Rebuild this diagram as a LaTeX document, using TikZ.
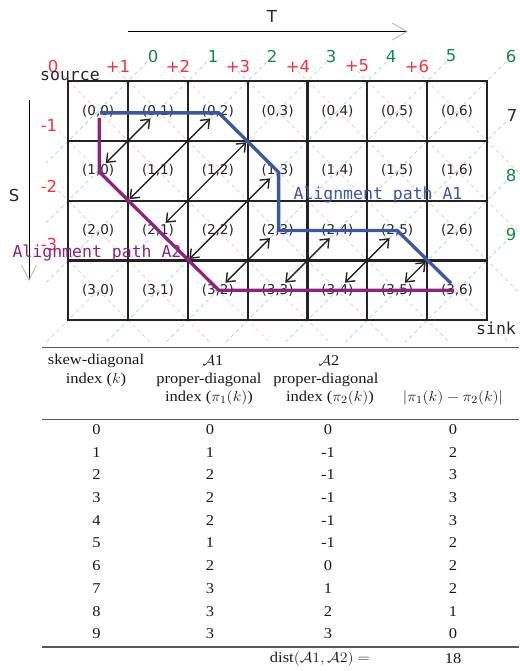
\documentclass[tikz,border=0pt]{standalone}
\usepackage{fontspec}
\setmainfont{Liberation Serif}
\newfontfamily\dvs{DejaVu Sans}
\newfontfamily\dvm{DejaVu Sans Mono}
\usetikzlibrary{arrows.meta,calc}
\definecolor{pathblue}{RGB}{58,86,168}
\definecolor{pathpurple}{RGB}{140,35,130}
\definecolor{dred}{RGB}{250,45,60}
\definecolor{dgreen}{RGB}{15,140,75}
\definecolor{dashred}{RGB}{252,185,192}
\definecolor{dashgreen}{RGB}{165,212,195}
\definecolor{gridc}{RGB}{35,35,35}
\newcommand\tsc[1]{\scalebox{1.1}[1]{#1}}
\newcommand\cA{\ensuremath{\mathcal{A}}}
\begin{document}
\begin{tikzpicture}[x=1pt,y=-1pt,
  cell/.style={font=\dvs\fontsize{13.5}{16}\selectfont, text=black!85, inner sep=0pt},
  dnum/.style={font=\dvs\fontsize{16.5}{19}\selectfont, text=dred, inner sep=0pt},
  knum/.style={font=\dvs\fontsize{16.5}{19}\selectfont, text=dgreen, inner sep=0pt},
  axlab/.style={font=\dvs\fontsize{16.5}{19}\selectfont, text=black!85, inner sep=0pt},
  mono/.style={font=\dvm\fontsize{16.5}{19}\selectfont, inner sep=0pt},
  gridline/.style={draw=gridc, line width=2.2pt, line cap=rect},
  dashr/.style={draw=dashred, line width=0.7pt, dash pattern=on 3.5pt off 3.5pt},
  dashg/.style={draw=dashgreen, line width=0.7pt, dash pattern=on 3.5pt off 3.5pt},
  pathA/.style={line width=3.3pt},
  biarrow/.style={{Straight Barb[length=7.5pt,width=12pt]}-{Straight Barb[length=7.5pt,width=12pt]}, line width=1.4pt, draw=gridc, shorten <=2pt, shorten >=2pt},
  headc/.style={draw=black!30, line width=0.8pt},
  tab/.style={font=\fontsize{15}{18}\selectfont, inner sep=0pt, text=black!90},
  rule/.style={draw=black!65, line width=1.3pt}]
\useasboundingbox (0,0) rectangle (519,671);

% dashed diagonals
\begin{scope}
\clip (46,60) rectangle (519,341);
\foreach \k in {0,...,9}{
  \pgfmathsetmacro\cx{68.3+59.8*min(\k+1,7)}
  \pgfmathsetmacro\cy{81+59.8*max(\k-6,0)}
  \draw[dashg] (\cx+19,\cy-19) -- (\cx-400,\cy+400);
}
\foreach \d in {-3,...,6}{
  \pgfmathsetmacro\cx{68.3+59.8*max(\d,0)}
  \pgfmathsetmacro\cy{81+59.8*max(-\d,0)}
  \draw[dashr] (\cx-10,\cy-10) -- (\cx+400,\cy+400);
}
\end{scope}

% grid
\foreach \j in {0,...,7} \draw[gridline] ({68.3+59.8*\j},81) -- ({68.3+59.8*\j},320.2);
\foreach \i in {0,...,4} \draw[gridline] (68.3,{81+59.8*\i}) -- (486.9,{81+59.8*\i});

% grid corners
\foreach \i in {0,...,4}{\foreach \j in {0,...,7}{
  \coordinate (k\i\j) at ({68.3+59.8*\j},{81+59.8*\i});
}}

% cell labels
\foreach \i in {0,...,3}{\foreach \j in {0,...,6}{
  \node[cell] (c\i\j) at ({68.3+59.8*(\j+0.5)},{81+59.8*(\i+0.5)}) {(\i,\j)};
}}

% axes
\coordinate (tA) at (128,31.5);
\coordinate (tB) at (407,31.5);
\draw[black, line width=0.9pt] (tA) -- (tB);
\draw[headc] ($(tB)+(-15,-8.5)$) -- (tB) -- ($(tB)+(-15,8.5)$);
\node[axlab] (T) at (272,16) {T};
\coordinate (sA) at (29,100);
\coordinate (sB) at (29,280);
\draw[black, line width=0.9pt] (sA) -- (sB);
\draw[headc] ($(sB)+(-7.5,-15)$) -- (sB) -- ($(sB)+(7.5,-15)$);
\node[axlab] (S) at (14,195) {S};

% proper-diagonal indices (red)
\node[dnum] (d0) at (53,66) {0};
\node[dnum] (d1) at (118,66) {+1};
\node[dnum] (d2) at (178,66) {+2};
\node[dnum] (d3) at (238,66) {+3};
\node[dnum] (d4) at (298,66) {+4};
\node[dnum] (d5) at (357,66) {+5};
\node[dnum] (d6) at (417,66) {+6};
\node[dnum] (dm1) at (49,125) {-1};
\node[dnum] (dm2) at (49,186) {-2};
\node[dnum] (dm3) at (49,244) {-3};

% skew-diagonal indices (green)
\node[knum] (s0) at (153,56) {0};
\node[knum] (s1) at (213,56) {1};
\node[knum] (s2) at (272,56) {2};
\node[knum] (s3) at (331,56) {3};
\node[knum] (s4) at (391,56) {4};
\node[knum] (s5) at (451,56) {5};
\node[knum] (s6) at (511,56) {6};
\node[axlab] (s7) at (512,115) {7};
\node[knum] (s8) at (511,175) {8};
\node[knum] (s9) at (511,234) {9};

\node[mono, text=black!85] (src) at (70,76) {source};
\node[mono, text=black!85] (snk) at (496,328) {sink};

% alignment paths
\draw[pathA, draw=pathpurple] ($(c00)+(1,7)$) -- ($(c10)+(1,1)$) -- ($(c32)+(1,0)$) -- ($(c36)+(-3,0)$);
\draw[pathA, draw=pathblue] ($(c00)+(2,2)$) -- ($(c02)+(1,2)$) -- ($(c13)+(1,1.5)$) -- ($(c23)+(1,0)$) -- ($(c25)+(0,0)$) -- ($(c36)+(-6,-7)$);
\node[mono, text=pathblue] (lA1) at (378,195) {Alignment path A1};
\node[mono, text=pathpurple] (lA2) at (97,253) {Alignment path A2};

% distance arrows along skew diagonals
\draw[biarrow] (c10) -- (c01);
\draw[biarrow] (k21) -- (c02);
\draw[biarrow] (c21) -- (k13);
\draw[biarrow] (k32) -- (c13);
\draw[biarrow] (c32) -- (c23);
\draw[biarrow] (c33) -- (c24);
\draw[biarrow] (c34) -- (c25);
\draw[biarrow] (c35) -- (k36);

% table
\coordinate (r1a) at (42,347.5); \coordinate (r1b) at (519,347.5);
\coordinate (r2a) at (42,419); \coordinate (r2b) at (519,419);
\coordinate (r3a) at (42,647); \coordinate (r3b) at (519,647);
\draw[rule] (r1a) -- (r1b);
\draw[rule, line width=1pt] (r2a) -- (r2b);
\draw[rule] (r3a) -- (r3b);

\node[tab] (h11) at (96,361) {\tsc{skew-diagonal}};
\node[tab] (h12) at (96,379.5) {\tsc{index ($k$)}};
\node[tab] (h21) at (213,361) {\tsc{\cA1}};
\node[tab] (h22) at (209,379.5) {\tsc{proper-diagonal}};
\node[tab] (h23) at (209,398) {\tsc{index ($\pi_1(k)$)}};
\node[tab] (h31) at (329,361) {\tsc{\cA2}};
\node[tab] (h32) at (326,379.5) {\tsc{proper-diagonal}};
\node[tab] (h33) at (330,398) {\tsc{index ($\pi_2(k)$)}};
\node[tab] (h43) at (453,398) {\tsc{$|\pi_1(k) - \pi_2(k)|$}};

\foreach \r/\a/\b/\c in {0/0/0/0,1/1/-1/2,2/2/-1/3,3/2/-1/3,4/2/-1/3,5/1/-1/2,6/2/0/2,7/3/1/2,8/3/2/1,9/3/3/0}{
  \node[tab] (t\r k) at (96.5,{429.5+22.7*\r}) {\tsc{\r}};
  \node[tab] (t\r a) at (210,{429.5+22.7*\r}) {\tsc{\a}};
  \node[tab] (t\r b) at (328,{429.5+22.7*\r}) {\tsc{\b}};
  \node[tab] (t\r c) at (453,{429.5+22.7*\r}) {\tsc{\c}};
}
\node[tab] (dist) at (320,659) {\tsc{dist$(\mathcal{A}1,\mathcal{A}2) =$}};
\node[tab] (dval) at (453,659) {\tsc{18}};
\end{tikzpicture}
\end{document}
